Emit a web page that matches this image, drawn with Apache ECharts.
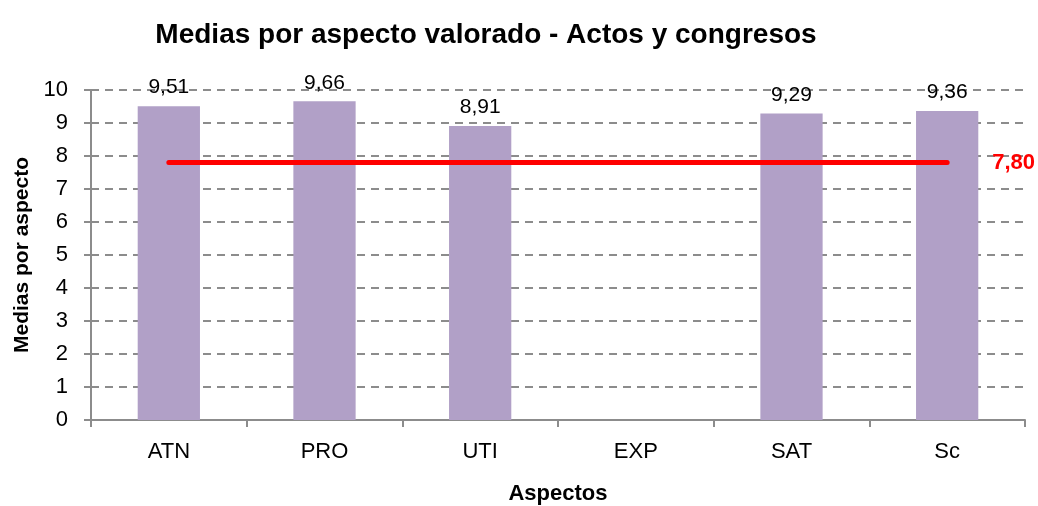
<!DOCTYPE html>
<html>
<head>
<meta charset="utf-8">
<script src="https://cdn.jsdelivr.net/npm/echarts@6/dist/echarts.min.js"></script>
<style>
  html, body { margin: 0; padding: 0; background: #fff; }
  #main { width: 1038px; height: 506px; }
</style>
</head>
<body>
<div id="main"></div>
<script>
// datos del gráfico
var aspectos = ['ATN', 'PRO', 'UTI', 'EXP', 'SAT', 'Sc'];
var medias = [9.51, 9.66, 8.91, null, 9.29, 9.36];
var mediaGlobal = [7.80, 7.80, 7.80, 7.80, 7.80, 7.80];

var fuente = '"Liberation Sans Narrow", "Liberation Sans", Arial, sans-serif';

function coma(v) {
    return v.toFixed(2).replace('.', ',');
}

var myChart = echarts.init(document.getElementById('main'));

var option = {
    animation: false,
    textStyle: { fontFamily: fuente },
    title: {
        text: 'Medias por aspecto valorado - Actos y congresos',
        left: 481,
        top: 16,
        textAlign: 'center',
        textStyle: { fontFamily: fuente, fontSize: 28, fontWeight: 'bold', color: '#000' }
    },
    grid: { left: 91, right: 13, top: 90, bottom: 86, outerBoundsMode: 'none' },
    xAxis: {
        type: 'category',
        data: aspectos,
        name: 'Aspectos',
        nameLocation: 'middle',
        nameGap: 63,
        nameTextStyle: { fontFamily: fuente, fontSize: 22, fontWeight: 'bold', color: '#000' },
        axisLine: { lineStyle: { color: '#8c8c8c', width: 2 } },
        axisTick: { show: true, length: 7, lineStyle: { color: '#8c8c8c', width: 2 } },
        axisLabel: { fontFamily: fuente, fontSize: 22, color: '#000', margin: 21 }
    },
    yAxis: {
        type: 'value',
        min: 0,
        max: 10,
        interval: 1,
        name: 'Medias por aspecto',
        nameLocation: 'middle',
        nameGap: 58,
        nameTextStyle: { fontFamily: fuente, fontSize: 21, fontWeight: 'bold', color: '#000' },
        axisLine: { show: true, lineStyle: { color: '#8c8c8c', width: 2 } },
        axisTick: { show: true, length: 7, lineStyle: { color: '#8c8c8c', width: 2 } },
        axisLabel: { fontFamily: fuente, fontSize: 22, color: '#000', margin: 23 },
        splitLine: { lineStyle: { color: '#8c8c8c', type: [8, 6], width: 2 } }
    },
    series: [
        {
            type: 'bar',
            data: medias,
            barWidth: '40%',
            itemStyle: { color: '#b1a0c7' },
            label: {
                show: true,
                position: 'top',
                distance: 8,
                fontFamily: fuente,
                fontSize: 21,
                color: '#000',
                formatter: function (p) { return coma(p.value); }
            }
        },
        {
            type: 'line',
            data: mediaGlobal,
            symbol: 'none',
            lineStyle: { color: '#ff0000', width: 5, cap: 'round' },
            endLabel: {
                show: true,
                distance: 45,
                fontFamily: fuente,
                fontSize: 22,
                fontWeight: 'bold',
                color: '#ff0000',
                formatter: function (p) { return coma(p.value); }
            },
            z: 3
        }
    ]
};

myChart.setOption(option);
</script>
</body>
</html>
